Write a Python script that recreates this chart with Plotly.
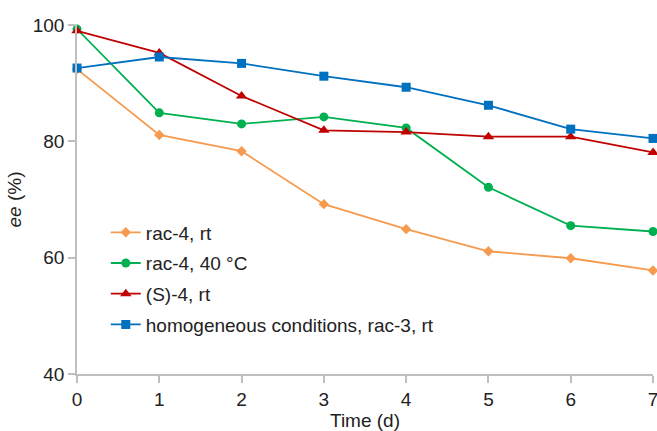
import plotly.graph_objects as go

days = [0, 1, 2, 3, 4, 5, 6, 7]
rac4_rt = [92.4, 81.1, 78.3, 69.2, 64.9, 61.1, 59.9, 57.8]
rac4_40 = [99.3, 84.9, 83.0, 84.2, 82.3, 72.1, 65.5, 64.5]
s4_rt = [99.0, 95.2, 87.8, 81.9, 81.6, 80.8, 80.8, 78.1]
homog = [92.6, 94.5, 93.4, 91.2, 89.3, 86.2, 82.1, 80.5]

names = ["rac-4, rt", "rac-4, 40 °C", "(S)-4, rt", "homogeneous conditions, rac-3, rt"]
colors = ["#F59A4E", "#00B050", "#C00000", "#0070C0"]
symbols = ["diamond", "circle", "triangle-up", "square"]
sizes = [8, 9, 10, 9]
series = [rac4_rt, rac4_40, s4_rt, homog]

fig = go.Figure()
for i, (nm, ys) in enumerate(zip(names, series)):
    fig.add_trace(go.Scatter(
        x=days, y=ys, name=nm, mode="lines+markers",
        line=dict(color=colors[i], width=1.8),
        marker=dict(symbol=symbols[i], size=sizes[i], color=colors[i]),
        cliponaxis=False, legendgroup=str(i),
    ))

axis_common = dict(
    showgrid=False, zeroline=False, showline=True, linecolor="#BFBFBF", linewidth=1.5,
    ticks="outside", ticklen=7, tickcolor="#BFBFBF", tickwidth=1.5,
    tickfont=dict(family="Liberation Sans, Arial", size=19, color="#222222"),
    ticklabeloverflow="allow", automargin=False,
)

fig.update_layout(
    width=657, height=431,
    margin=dict(l=77, r=4, t=25, b=57),
    paper_bgcolor="white", plot_bgcolor="white",
    font=dict(family="Liberation Sans, Arial", size=18, color="#222222"),
    xaxis=dict(range=[0, 7], dtick=1, title=dict(text="Time (d)", font=dict(size=19), standoff=8), **axis_common),
    yaxis=dict(range=[40, 100], dtick=20, title=dict(text="<i>ee</i> (%)", font=dict(size=19), standoff=6), **axis_common),
    legend=dict(x=0.05, y=0.46, xanchor="left", yanchor="top", traceorder="grouped",
                tracegroupgap=3, font=dict(size=19), bgcolor="rgba(0,0,0,0)", itemwidth=30),
    showlegend=True,
)

fig.write_html("out.html")
